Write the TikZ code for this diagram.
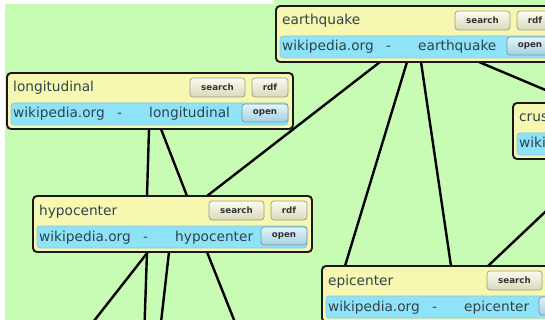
\documentclass[tikz,border=0pt]{standalone}
\usepackage{fontspec}
\setmainfont{DejaVu Sans}
\definecolor{bggreen}{HTML}{C8FBB4}
\definecolor{boxyellow}{HTML}{F6F8B2}
\definecolor{barblue}{HTML}{8FE3F9}
\definecolor{txtgray}{HTML}{2E4448}
\definecolor{btntop}{HTML}{FBFBF0}
\definecolor{btnbot}{HTML}{D9D9BA}
\definecolor{btnline}{HTML}{9C9C8A}
\definecolor{opentop}{HTML}{E2F5FB}
\definecolor{openbot}{HTML}{A6D0E0}
\definecolor{openline}{HTML}{7896A4}
\pgfdeclarelayer{bg}
\pgfdeclarelayer{edges}
\pgfsetlayers{bg,edges,main}
\tikzset{
  cardbox/.style={draw=black!90, line width=1.9pt, rounded corners=4pt, fill=boxyellow,
    anchor=north west, inner sep=0pt, outer sep=0pt, minimum height=56pt},
  barbox/.style={fill=barblue, draw=barblue!70!gray, line width=0.6pt, rounded corners=3pt,
    anchor=north west, inner sep=0pt, outer sep=0pt, minimum height=22pt},
  btnbox/.style={rounded corners=3pt, draw=btnline, line width=0.7pt, top color=btntop,
    bottom color=btnbot, font=\bfseries\fontsize{8.7}{9}\selectfont, text=black!80,
    inner sep=0pt, outer sep=0pt, anchor=north east, minimum height=19pt},
  openbox/.style={btnbox, draw=openline, top color=opentop, bottom color=openbot,
    minimum width=46pt, minimum height=18pt},
  ttext/.style={anchor=base west, inner sep=0pt, text=txtgray, font=\fontsize{13.7}{15}\selectfont},
  edge/.style={draw=black, line width=2.4pt}
}
\newcommand\wcard[5]{%
  \node[cardbox, minimum width=#4pt] (#1) at (#2,#3) {};
  \node[barbox, minimum width={#4pt-9pt}] (#1-bar) at ([shift={(4,30)}]#1.north west) {};
  \node[btnbox, minimum width=36pt] (#1-rdf) at ([shift={(-5,5)}]#1.north east) {rdf};
  \node[btnbox, minimum width=55pt] (#1-search) at ([shift={(-7,0)}]#1-rdf.north west) {search};
  \node[openbox] (#1-open) at ([shift={(-5,31)}]#1.north east) {open};
  \node[ttext] (#1-title) at ([shift={(6,19)}]#1.north west) {#5};
  \node[ttext] (#1-wiki) at ([shift={(6,45)}]#1.north west) {wikipedia.org};
  \node[ttext] (#1-dash) at ([shift={(110,45)}]#1.north west) {-};
  \node[ttext] (#1-name) at ([shift={(142,45)}]#1.north west) {#5};
}
\begin{document}
\begin{tikzpicture}[x=1pt,y=-1pt]
\useasboundingbox (0,0) rectangle (545,320);
\clip (0,0) rectangle (545,320);
\begin{pgfonlayer}{bg}
  \fill[bggreen] (0,0) rectangle (545,320);
  \fill[white] (0,0) rectangle (5,320);
  \fill[white] (0,0) rectangle (274,4);
\end{pgfonlayer}

\wcard{eq}{276}{6}{282}{earthquake}
\wcard{long}{7}{73}{286}{longitudinal}
\wcard{hypo}{33}{196}{279}{hypocenter}
\wcard{epi}{322}{266}{268}{epicenter}
\wcard{crust}{513}{103}{280}{crust}

\coordinate (offR1) at (600,113);
\coordinate (offR2) at (600,160);
\coordinate (offB1) at (79,340);
\coordinate (offB2) at (144,340);
\coordinate (offB3) at (159,340);
\coordinate (offB4) at (242,340);

\begin{pgfonlayer}{edges}
  \draw[edge] ([xshift=104pt]eq.south west) -- ([xshift=174pt]hypo.north west);
  \draw[edge] ([xshift=131pt]eq.south west) -- ([xshift=23pt]epi.north west);
  \draw[edge] ([xshift=145pt]eq.south west) -- ([xshift=129pt]epi.north west);
  \draw[edge] ([xshift=203pt]eq.south west) -- (offR1);
  \draw[edge] ([xshift=166pt]epi.north west) -- (offR2);
  \draw[edge] ([xshift=142pt]long.south west) -- ([xshift=114pt]hypo.north west);
  \draw[edge] ([xshift=154pt]long.south west) -- ([xshift=154pt]hypo.north west);
  \draw[edge] ([xshift=115pt]hypo.south west) -- (offB1);
  \draw[edge] ([xshift=114pt]hypo.south west) -- (offB2);
  \draw[edge] ([xshift=136pt]hypo.south west) -- (offB3);
  \draw[edge] ([xshift=174pt]hypo.south west) -- (offB4);
\end{pgfonlayer}
\end{tikzpicture}
\end{document}
